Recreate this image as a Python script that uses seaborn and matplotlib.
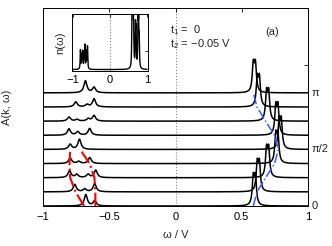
import numpy as np
import pandas as pd
import matplotlib
matplotlib.use('Agg')
import matplotlib.pyplot as plt
import seaborn as sns

# k index 0..8 -> k = 0, pi/8, ..., pi (curves offset by 1 each)
k_offsets = [0, 1, 2, 3, 4, 5, 6, 7, 8]
k_ticklabels = {0: '0', 4: 'π/2', 8: 'π'}

# lower band: peak positions / heights for each k
left_pos = [
    [-0.677, -0.610],
    [-0.760, -0.685, -0.610],
    [-0.800, -0.745, -0.660, -0.602],
    [-0.795, -0.730, -0.647],
    [-0.795, -0.725],
    [-0.804, -0.738, -0.648],
    [-0.804, -0.743, -0.658, -0.615],
    [-0.753, -0.668, -0.615],
    [-0.680, -0.615],
]
left_amp = [
    [0.80, 0.36],
    [0.52, 0.20, 0.58],
    [0.48, 0.22, 0.23, 0.53],
    [0.38, 0.15, 0.42],
    [0.36, 0.72],
    [0.45, 0.25, 0.48],
    [0.29, 0.12, 0.17, 0.40],
    [0.36, 0.17, 0.58],
    [0.85, 0.38],
]
# upper band: double spike at each k
right_pos_a = [0.587, 0.617, 0.687, 0.757, 0.782, 0.757, 0.687, 0.617, 0.587]
right_pos_b = [0.603, 0.633, 0.703, 0.773, 0.798, 0.773, 0.703, 0.633, 0.603]
right_amp = [1.9, 1.9, 1.9, 1.9, 1.9, 1.9, 1.9, 1.9, 1.9]

# guide lines (k index 0..4 for red, 0..8 for blue)
red_k = [0, 1, 2, 3, 4]
red_a = [-0.690, -0.755, -0.795, -0.800, -0.795]
red_b = [-0.605, -0.605, -0.612, -0.648, -0.720]
blue_k = [0, 1, 2, 3, 4, 5, 6, 7, 8]
blue_w = [0.587, 0.615, 0.680, 0.748, 0.776, 0.748, 0.680, 0.615, 0.587]

# inset density of states n(w)
dos_pos = [-0.80, -0.765, -0.74, -0.70, -0.68, -0.64, -0.61,
           0.595, 0.61, 0.625, 0.64, 0.69, 0.705, 0.76, 0.775, 0.79]
dos_amp = [0.34, 0.24, 0.30, 0.26, 0.40, 0.30, 0.40,
           0.90, 0.70, 0.95, 0.55, 0.70, 0.60, 0.92, 0.65, 0.45]

gamma_left = 0.014
gamma_right = 0.009
gamma_dos = 0.008

w = np.linspace(-1, 1, 4001)


def lorentz(x0, a, g):
    return a * g**2 / ((w - x0)**2 + g**2)


sns.set_theme(style="white")
plt.rcParams['font.family'] = ['Liberation Sans', 'DejaVu Sans']
plt.rcParams['mathtext.fontset'] = 'custom'
plt.rcParams['mathtext.rm'] = 'Liberation Sans'
plt.rcParams['mathtext.it'] = 'Liberation Sans'

fs = 8

fig = plt.figure(figsize=(3.32, 2.46), dpi=100)
ax = fig.add_axes([43/332, 40/246, 265/332, 198/246])

# spectra A(k, w) stacked
for i, off in enumerate(k_offsets):
    A = np.zeros_like(w)
    for p, a in zip(left_pos[i], left_amp[i]):
        A += lorentz(p, a, gamma_left)
    A += lorentz(right_pos_a[i], right_amp[i], gamma_right)
    A += lorentz(right_pos_b[i], right_amp[i], gamma_right)
    df = pd.DataFrame({'w': w, 'A': A + off})
    sns.lineplot(data=df, x='w', y='A', color='black', lw=1.1, ax=ax)

ax.axvline(0, color='grey', ls=':', lw=0.8, zorder=0)
ax.plot(red_a, red_k, color='red', ls='-.', lw=1.5)
ax.plot(red_b, red_k, color='red', ls='-.', lw=1.5)
ax.plot(blue_w, blue_k, color='#3a5cff', ls='-.', lw=1.1)

ax.set_xlim(-1, 1)
ax.set_ylim(0, 14)
ax.set_xticks([-1, -0.5, 0, 0.5, 1])
ax.set_xticklabels(['−1', '−0.5', '0', '0.5', '1'])
ax.set_yticks([0, 5, 10])
ax.set_yticklabels([])
ax.tick_params(direction='in', length=3, width=0.6, top=True, right=True,
               labelsize=fs, pad=4, colors='black')
for s in ax.spines.values():
    s.set_color('black')
    s.set_linewidth(0.7)
ax.set_xlabel('ω / V', fontsize=fs, labelpad=6)
ax.set_ylabel('A(k, ω)', fontsize=fs, labelpad=18)

for off, lab in k_ticklabels.items():
    ax.text(1.015, off, lab, transform=ax.get_yaxis_transform(),
            fontsize=fs, va='center', ha='left')

ax.text(-0.04, 12.45, r'$\mathrm{t_1}$ =  0', fontsize=fs, va='center')
ax.text(-0.04, 11.45, r'$\mathrm{t_2}$ = −0.05 V', fontsize=fs, va='center')
ax.text(0.73, 12.3, '(a)', fontsize=fs, va='center', ha='center')

# inset
ins = fig.add_axes([72.3/332, (246-70.7)/246, 75.4/332, 56.7/246])
n = np.zeros_like(w)
for p, a in zip(dos_pos, dos_amp):
    n += lorentz(p, a, gamma_dos)
sns.lineplot(x=w, y=n, color='black', lw=1.0, ax=ins)
ins.axvline(0, color='grey', ls=':', lw=0.8, zorder=0)
ins.set_xlim(-1.02, 1.02)
ins.set_ylim(-0.02, 1.0)
ins.set_xticks([-1, 0, 1])
ins.set_xticklabels(['−1', '0', '1'])
ins.set_yticks([0.33])
ins.set_yticklabels([])
ins.tick_params(direction='in', length=2.5, width=0.6, top=True, right=True,
                labelsize=fs, pad=3, colors='black')
for s in ins.spines.values():
    s.set_color('black')
    s.set_linewidth(0.7)
ins.set_ylabel('n(ω)', fontsize=fs, labelpad=2)
ins.set_xlabel('')

fig.savefig('out.png', dpi=100)
